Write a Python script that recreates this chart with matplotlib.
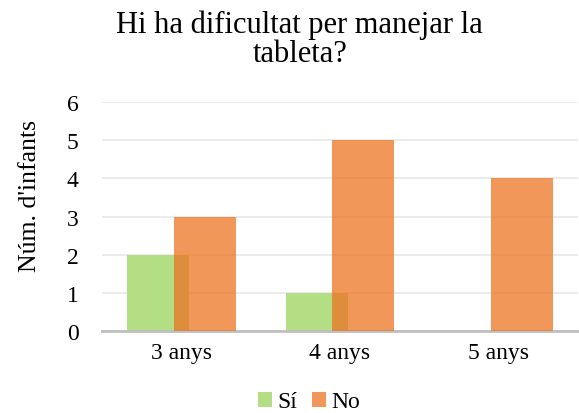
import matplotlib
matplotlib.use("Agg")
import matplotlib.pyplot as plt
import numpy as np

categories = ["3 anys", "4 anys", "5 anys"]
si_values = [2, 1, 0]
no_values = [3, 5, 4]
series_names = ["Sí", "No"]

plt.rcParams['font.family'] = ['Liberation Serif', 'DejaVu Serif']

fig = plt.figure(figsize=(5.79, 4.14), dpi=100)
ax = fig.add_axes([102/579, 1-332/414, 476/579, (332-103)/414])

x = np.arange(len(categories))
w = 0.39
off = 0.147
ax.bar(x - off, si_values, w, color="#B3DE84", label=series_names[0], zorder=2)
ax.bar(x + off, no_values, w, color="#ED7423", alpha=0.75, label=series_names[1], zorder=3)

ax.set_xlim(-0.5, 2.5)
ax.set_ylim(0, 6)
ax.set_yticks(range(0, 7))
ax.set_xticks(x)
ax.set_xticklabels(categories)
ax.tick_params(length=0, labelsize=17, colors="#000000")
ax.tick_params(axis='x', pad=8)
ax.tick_params(axis='y', pad=17)
for s in ["top", "right", "left"]:
    ax.spines[s].set_visible(False)
ax.spines["bottom"].set_color("#BFBFBF")
ax.spines["bottom"].set_linewidth(2)
ax.grid(axis='y', color="#E8E8E8", linewidth=1.2, zorder=0)
ax.set_axisbelow(True)
ax.set_ylabel("Núm. d'infants", fontsize=18.5)
ax.yaxis.set_label_coords(-0.128, 0.594)

fig.text(299/579, 1-33/414, "Hi ha dificultat per manejar la", fontsize=22,
         ha="center", va="baseline")
fig.text(300/579, 1-62/414, "tableta?", fontsize=22, ha="center", va="baseline")

fig.legend(loc="center", bbox_to_anchor=(309/579, 1-403/414), ncol=2, frameon=False,
           fontsize=17, handlelength=0.6, handleheight=0.6, handletextpad=0.25,
           columnspacing=0.6, borderpad=0, borderaxespad=0)

fig.savefig("out.png", dpi=100)
